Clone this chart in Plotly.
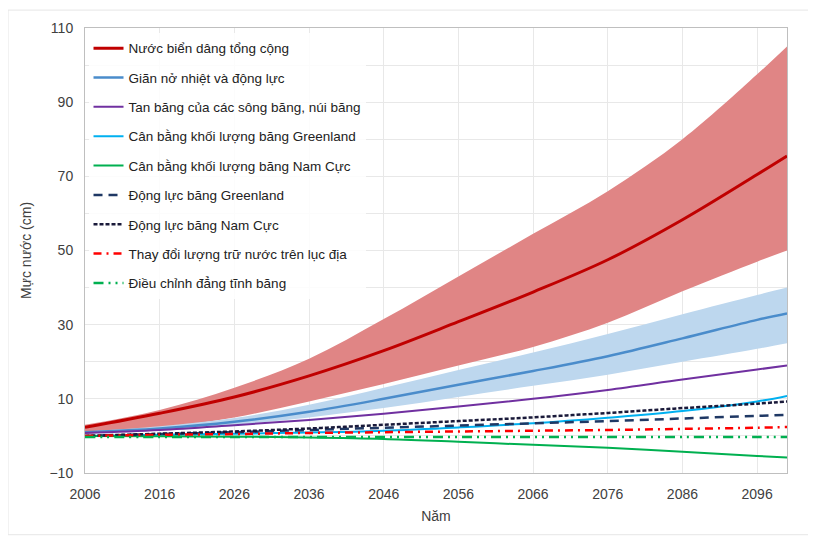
import plotly.graph_objects as go

# years sampled along the curves
years = [2006, 2016, 2026, 2036, 2046, 2056, 2066, 2076, 2086, 2096, 2100]

# total sea level rise (cm) and its likely range
total = [2.3, 6.1, 10.5, 16.2, 23.0, 30.8, 38.8, 47.5, 58.3, 70.5, 75.5]
total_hi = [3.0, 7.0, 13.0, 20.8, 31.5, 43.0, 54.5, 66.0, 80.0, 97.5, 105.0]
total_lo = [1.0, 2.3, 5.0, 9.3, 14.0, 19.0, 24.0, 30.5, 39.0, 47.0, 50.0]

# thermal expansion
thermal = [1.0, 2.0, 3.8, 6.5, 10.0, 13.8, 17.5, 21.5, 26.3, 31.3, 33.0]
thermal_hi = [1.2, 2.6, 4.8, 8.4, 13.0, 17.8, 22.5, 27.5, 32.8, 38.0, 40.0]
thermal_lo = [0.8, 1.6, 3.0, 5.0, 7.5, 10.5, 13.5, 16.5, 20.0, 23.5, 25.0]

glaciers = [0.8, 1.6, 2.9, 4.3, 6.0, 7.9, 10.0, 12.4, 15.2, 17.9, 19.0]
greenland_smb = [0.0, 0.3, 0.6, 0.9, 1.4, 2.3, 3.4, 4.9, 6.7, 9.3, 10.8]
antarctic_smb = [0.0, -0.1, -0.2, -0.4, -0.8, -1.6, -2.4, -3.2, -4.3, -5.4, -5.8]
greenland_dyn = [0.0, 0.5, 1.0, 1.6, 2.2, 2.8, 3.4, 4.0, 4.7, 5.4, 5.7]
antarctic_dyn = [0.0, 0.6, 1.2, 2.0, 3.0, 4.0, 5.0, 6.2, 7.5, 8.7, 9.3]
land_water = [0.0, 0.3, 0.5, 0.8, 1.0, 1.2, 1.4, 1.6, 1.9, 2.2, 2.4]
gia = [-0.3, -0.3, -0.3, -0.3, -0.3, -0.3, -0.3, -0.3, -0.3, -0.3, -0.3]

x_ticks = list(range(2006, 2097, 10))

fig = go.Figure()

# uncertainty bands
fig.add_trace(go.Scatter(x=years, y=total_lo, mode='lines', line=dict(width=0, shape='spline'),
                         showlegend=False, hoverinfo='skip'))
fig.add_trace(go.Scatter(x=years, y=total_hi, mode='lines', line=dict(width=0, shape='spline'),
                         fill='tonexty', fillcolor='#E08585', showlegend=False, hoverinfo='skip'))
fig.add_trace(go.Scatter(x=years, y=thermal_lo, mode='lines', line=dict(width=0, shape='spline'),
                         showlegend=False, hoverinfo='skip'))
fig.add_trace(go.Scatter(x=years, y=thermal_hi, mode='lines', line=dict(width=0, shape='spline'),
                         fill='tonexty', fillcolor='#BDD7EE', showlegend=False, hoverinfo='skip'))

series = [
    ('Nước biển dâng tổng cộng', total, '#C00000', 3, 'solid'),
    ('Giãn nở nhiệt và động lực', thermal, '#4A8CCB', 2.5, 'solid'),
    ('Tan băng của các sông băng, núi băng', glaciers, '#7030A0', 2, 'solid'),
    ('Cân bằng khối lượng băng Greenland', greenland_smb, '#00B0F0', 2, 'solid'),
    ('Cân bằng khối lượng băng Nam Cực', antarctic_smb, '#00B050', 2, 'solid'),
    ('Động lực băng Greenland', greenland_dyn, '#1F3864', 2.5, '9px,6px'),
    ('Động lực băng Nam Cực', antarctic_dyn, '#1A1A3A', 2.5, '4px,2px'),
    ('Thay đổi lượng trữ nước trên lục địa', land_water, '#FF0000', 2.5, '8px,5px,2px,5px'),
    ('Điều chỉnh đẳng tĩnh băng', gia, '#00B050', 2.5, '10px,5px,2px,5px,2px,5px'),
]
for i, (name, vals, color, w, dash) in enumerate(series):
    fig.add_trace(go.Scatter(x=years, y=vals, mode='lines', name=name, legendgroup=str(i),
                             line=dict(color=color, width=w, dash=dash, shape='spline')))

axis_font = dict(family='Liberation Sans, Arial, sans-serif', size=14, color='#404040')

# the page body adds an 8px margin, so the figure is sized to fit the window
fig.update_layout(
    width=808, height=533,
    margin=dict(l=77, r=29, t=18, b=68),
    paper_bgcolor='white', plot_bgcolor='white',
    font=dict(family='Liberation Sans, Arial, sans-serif', size=13, color='#222222'),
    legend=dict(x=0.005, y=0.989, xanchor='left', yanchor='top', bgcolor='rgba(255,255,255,0.85)',
                tracegroupgap=8.8, font=dict(size=13.5, color='#222222')),
    xaxis=dict(range=[2006, 2100], tickvals=x_ticks, showgrid=True, gridcolor='#E8E8E8',
               showline=True, linecolor='#BFBFBF', mirror=True, zeroline=False,
               ticks='outside', ticklen=8, tickcolor='white', tickfont=axis_font,
               title=dict(text='Năm', font=axis_font, standoff=10)),
    yaxis=dict(range=[-10, 110], tick0=-10, dtick=20, showgrid=True, gridcolor='#E8E8E8',
               minor=dict(dtick=10, showgrid=True, gridcolor='#E8E8E8'),
               showline=True, linecolor='#BFBFBF', mirror=True, zeroline=False,
               ticks='outside', ticklen=8, tickcolor='white', tickfont=axis_font,
               title=dict(text='Mực nước (cm)', font=axis_font, standoff=14)),
)

# faint frame around the whole picture
fig.add_shape(type='rect', xref='paper', yref='paper',
              x0=(8 - 85) / 702, x1=(809 - 85) / 702, y0=(473 - 535) / 447, y1=(473 - 8) / 447,
              line=dict(color='#E6E6E6', width=1), layer='below')

fig.write_html("out.html")
